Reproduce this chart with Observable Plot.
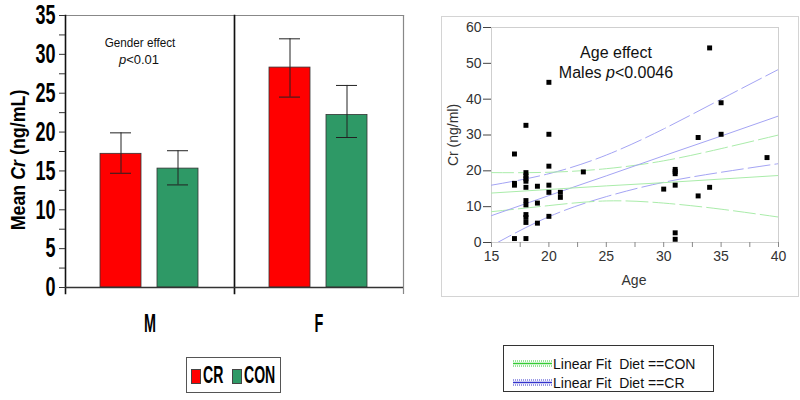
<!DOCTYPE html>
<html><head><meta charset="utf-8">
<script src="https://cdn.jsdelivr.net/npm/d3@7"></script>
<script src="https://cdn.jsdelivr.net/npm/@observablehq/plot@0.6"></script>
<style>
body{margin:0;background:#fff;}
#wrap{position:relative;width:800px;height:400px;overflow:hidden;font-family:"Liberation Sans",Arial,sans-serif;}
#left{position:absolute;left:0;top:0;}
#rightbox{position:absolute;left:441px;top:16px;width:356px;height:279px;border:1px solid #d4d4d4;}
#right{position:absolute;left:441px;top:16px;}
#leg1{position:absolute;left:186px;top:357px;width:95px;height:36px;border:1px solid #555;box-sizing:border-box;font-family:"Liberation Sans",Arial,sans-serif;font-weight:bold;font-size:22px;color:#000;}
#leg1 .sw{position:absolute;top:11px;width:10px;height:15px;border:1px solid #444;box-sizing:border-box;}
#leg1 .lab{position:absolute;top:5px;transform-origin:0 50%;transform:scale(0.64,1.1);white-space:nowrap;line-height:24px;}
#leg2{position:absolute;left:503px;top:345px;width:211px;height:47px;border:1.5px solid #333;box-sizing:border-box;font-size:14px;color:#111;padding-top:8px;}
#leg2 .row{display:flex;align-items:center;height:19px;padding-left:9px;}
#leg2 svg{flex-shrink:0;margin-right:1px;}
</style></head>
<body>
<div id="wrap">
  <div id="left"></div>
  <div id="rightbox"></div>
  <div id="right"></div>
  <div id="leg1">
    <span class="sw" style="left:4px;background:#ff0000"></span><span class="lab" style="left:16px">CR</span>
    <span class="sw" style="left:45px;background:#2e9966"></span><span class="lab" style="left:57px">CON</span>
  </div>
  <div id="leg2">
    <div class="row"><svg width="39" height="7"><line x1="0" x2="39" y1="1" y2="1" stroke="#33cc33" stroke-dasharray="1,1"/><line x1="0" x2="39" y1="3.5" y2="3.5" stroke="#33cc33" stroke-width="1.3"/><line x1="0" x2="39" y1="6" y2="6" stroke="#33cc33" stroke-dasharray="1,1"/></svg><span>Linear Fit&nbsp;&nbsp;Diet ==CON</span></div>
    <div class="row"><svg width="39" height="7"><line x1="0" x2="39" y1="1" y2="1" stroke="#3333cc" stroke-dasharray="1,1"/><line x1="0" x2="39" y1="3.5" y2="3.5" stroke="#3333cc" stroke-width="1.3"/><line x1="0" x2="39" y1="6" y2="6" stroke="#3333cc" stroke-dasharray="1,1"/></svg><span>Linear Fit&nbsp;&nbsp;Diet ==CR</span></div>
  </div>
</div>
<script>
// ---------- Left chart data ----------
const sexes = ["M", "F"];
const diets = ["CR", "CON"];
const barSex  = ["M", "M", "F", "F"];
const barDiet = ["CR", "CON", "CR", "CON"];
const barMean = [17.2, 15.3, 28.3, 22.2];
const barLow  = [14.7, 13.2, 24.5, 19.3];
const barHigh = [19.9, 17.6, 32.0, 26.0];
const yMajorTicks = [0, 5, 10, 15, 20, 25, 30, 35];
const yMinorTicks = [2.5, 7.5, 12.5, 17.5, 22.5, 27.5, 32.5];

// ---------- Right chart data ----------
const ptAge = [17,17,17,17,
  18,18,18,18,18,18,18,18,18,18,18,18,
  19,19,19,
  20,20,20,20,20,20,
  21,21,
  23,
  30,
  31,31,31,31,31,31,
  33,33,
  34,34,
  35,35,
  39];
const ptCr = [24.7,16.5,16.0,1.1,
  32.7,19.5,18.6,17.8,17.1,15.4,11.7,10.5,7.8,7.0,5.6,1.1,
  15.7,11.0,5.4,
  44.7,30.2,21.3,16.0,14.0,7.3,
  14.0,12.6,
  19.7,
  14.9,
  20.4,19.8,19.2,16.0,2.7,0.9,
  29.3,13.0,
  54.3,15.4,
  39.0,30.2,
  23.7];
const fitAges  = [15, 20, 25, 30, 35, 40];
const crFit    = [7.5, 13.1, 18.6, 24.2, 29.7, 35.3];
const crUpper  = [16.0, 19.2, 24.4, 31.7, 40.0, 48.3];
const crLower  = [-0.9, 7.2, 12.8, 16.8, 19.6, 22.0];
const conFit   = [13.8, 14.8, 15.8, 16.7, 17.7, 18.7];
const conUpper = [19.5, 19.6, 20.6, 22.8, 26.2, 30.0];
const conLower = [8.6, 10.3, 11.6, 11.0, 9.3, 7.1];
const xMajorTicks = [15, 20, 25, 30, 35, 40];
const xMinorTicks = [17.5, 22.5, 27.5, 32.5, 37.5];
const yTicksR = [0, 10, 20, 30, 40, 50, 60];

const boldFont = "'Liberation Sans',Arial,sans-serif";

function squeeze(node, selector, sx, sy) {
  d3.select(node).selectAll(selector).each(function () {
    const el = d3.select(this);
    const x = +el.attr("x") || 0, y = +el.attr("y") || 0;
    const tr = el.attr("transform") || "";
    el.attr("transform", `${tr} translate(${x},${y}) scale(${sx},${sy}) translate(${-x},${-y})`);
  });
}

// ---------- Left chart ----------
const bars = barSex.map((s, i) => ({sex: s, diet: barDiet[i], mean: barMean[i], lo: barLow[i], hi: barHigh[i]}));
const left = Plot.plot({
  width: 420, height: 345,
  marginLeft: 65, marginRight: 17, marginTop: 15, marginBottom: 58,
  style: {fontFamily: boldFont, background: "white", color: "#000", overflow: "visible"},
  fx: {domain: sexes, padding: 0, axis: null, label: null},
  x: {domain: diets, paddingInner: 0.276, paddingOuter: 0.6, axis: null},
  y: {domain: [0, 35], axis: null},
  color: {domain: diets, range: ["#ff0000", "#2e9966"]},
  marks: [
    Plot.barY(bars, {fx: "sex", x: "diet", y: "mean", fill: "diet", stroke: "#333", strokeWidth: 0.8}),
    Plot.ruleX(bars, {fx: "sex", x: "diet", y1: "lo", y2: "hi", stroke: "#222", strokeWidth: 1}),
    Plot.tickY(bars, {fx: "sex", x: "diet", y: "hi", insetLeft: 10, insetRight: 10, stroke: "#222"}),
    Plot.tickY(bars, {fx: "sex", x: "diet", y: "lo", insetLeft: 10, insetRight: 10, stroke: "#222"}),
    Plot.frame({anchor: "top", stroke: "#888", strokeWidth: 1.2}),
    Plot.frame({anchor: "right", stroke: "#888", strokeWidth: 1.2, insetBottom: -6}),
    Plot.frame({anchor: "left", stroke: "#111", strokeWidth: 1.6, insetBottom: -6}),
    Plot.ruleY([0], {stroke: "#333", strokeWidth: 1.4}),
    Plot.axisY(yMajorTicks, {tickSize: 6, tickPadding: 4, fontSize: 24, fontWeight: "bold", label: null, stroke: "#333"}),
    Plot.axisY(yMinorTicks, {tickSize: 6, tickFormat: () => "", label: null, stroke: "#333"}),
    Plot.axisFx({anchor: "bottom", tickSize: 0, tickPadding: 27, fontSize: 24, fontWeight: "bold", label: null})
  ]
});
document.getElementById("left").appendChild(left);
squeeze(left, 'g[aria-label="y-axis tick label"] text', 0.75, 1.15);
squeeze(left, 'g[aria-label="fx-axis tick label"] text', 0.6, 1.05);
{
  const svg = d3.select(left);
  const t = svg.append("text")
    .attr("transform", "translate(25,160) rotate(-90) scale(0.85,1)")
    .attr("text-anchor", "middle")
    .attr("font-family", boldFont).attr("font-weight", "bold").attr("font-size", 21).attr("fill", "#000");
  t.append("tspan").text("Mean ");
  t.append("tspan").attr("font-style", "italic").text("Cr");
  t.append("tspan").text(" (ng/mL)");
  const g = svg.append("g").attr("font-family", "'Liberation Sans',Arial,sans-serif").attr("font-size", 13).attr("text-anchor", "middle").attr("fill", "#111");
  g.append("text").attr("x", 140).attr("y", 47).attr("transform", "translate(140,0) scale(0.9,1) translate(-140,0)").text("Gender effect");
  const p = g.append("text").attr("x", 139).attr("y", 64);
  p.append("tspan").attr("font-style", "italic").text("p");
  p.append("tspan").text("<0.01");
}

// ---------- Right chart ----------
const points = ptAge.map((a, i) => ({age: a, cr: ptCr[i]}));
function series(name, vals) { return fitAges.map((a, i) => ({age: a, v: vals[i], s: name})); }
const fitLines = [...series("crFit", crFit), ...series("conFit", conFit)];
const ciLines = [...series("crU", crUpper), ...series("crL", crLower), ...series("conU", conUpper), ...series("conL", conLower)];
const lineColor = s => s.startsWith("cr") ? "#a4a4f4" : "#aaecaa";

const right = Plot.plot({
  width: 357, height: 280,
  marginLeft: 50, marginRight: 20, marginTop: 11, marginBottom: 54,
  style: {fontFamily: "'Liberation Sans',Arial,sans-serif", fontSize: "14px", color: "#333", background: "transparent", overflow: "visible"},
  x: {domain: [15, 40], axis: null},
  y: {domain: [0, 60], axis: null},
  marks: [
    Plot.frame({stroke: "#cfcfcf"}),
    Plot.line(ciLines, {x: "age", y: "v", z: "s", stroke: d => lineColor(d.s), strokeWidth: 1, strokeDasharray: "22,5", curve: "natural", clip: true}),
    Plot.line(fitLines, {x: "age", y: "v", z: "s", stroke: d => lineColor(d.s), strokeWidth: 1, clip: true}),
    Plot.dot(points, {x: "age", y: "cr", symbol: "square", r: 2.8, fill: "black", stroke: null}),
    Plot.axisY(yTicksR, {tickSize: 8, tickPadding: 2, fontSize: 14, label: null, stroke: "#444", fill: "#333"}),
    Plot.axisX(xMajorTicks, {tickSize: 5, tickPadding: 4, fontSize: 14, label: null, stroke: "#888", fill: "#333"}),
    Plot.axisX(xMinorTicks, {tickSize: 5, tickFormat: () => "", label: null, stroke: "#888"})
  ]
});
document.getElementById("right").appendChild(right);
{
  const svg = d3.select(right);
  svg.append("text").attr("x", 193).attr("y", 269).attr("text-anchor", "middle")
    .attr("font-family", "'Liberation Sans',Arial,sans-serif").attr("font-size", 14).attr("fill", "#333").text("Age");
  svg.append("text").attr("transform", "translate(17,119) rotate(-90)").attr("text-anchor", "middle")
    .attr("font-family", "'Liberation Sans',Arial,sans-serif").attr("font-size", 14).attr("fill", "#333").text("Cr (ng/ml)");
  const g = svg.append("g").attr("font-family", "'Liberation Sans',Arial,sans-serif").attr("font-size", 16).attr("text-anchor", "middle").attr("fill", "#111");
  g.append("text").attr("x", 175).attr("y", 42).text("Age effect");
  const t = g.append("text").attr("x", 175).attr("y", 62);
  t.append("tspan").text("Males ");
  t.append("tspan").attr("font-style", "italic").text("p");
  t.append("tspan").text("<0.0046");
}
</script>
</body></html>
